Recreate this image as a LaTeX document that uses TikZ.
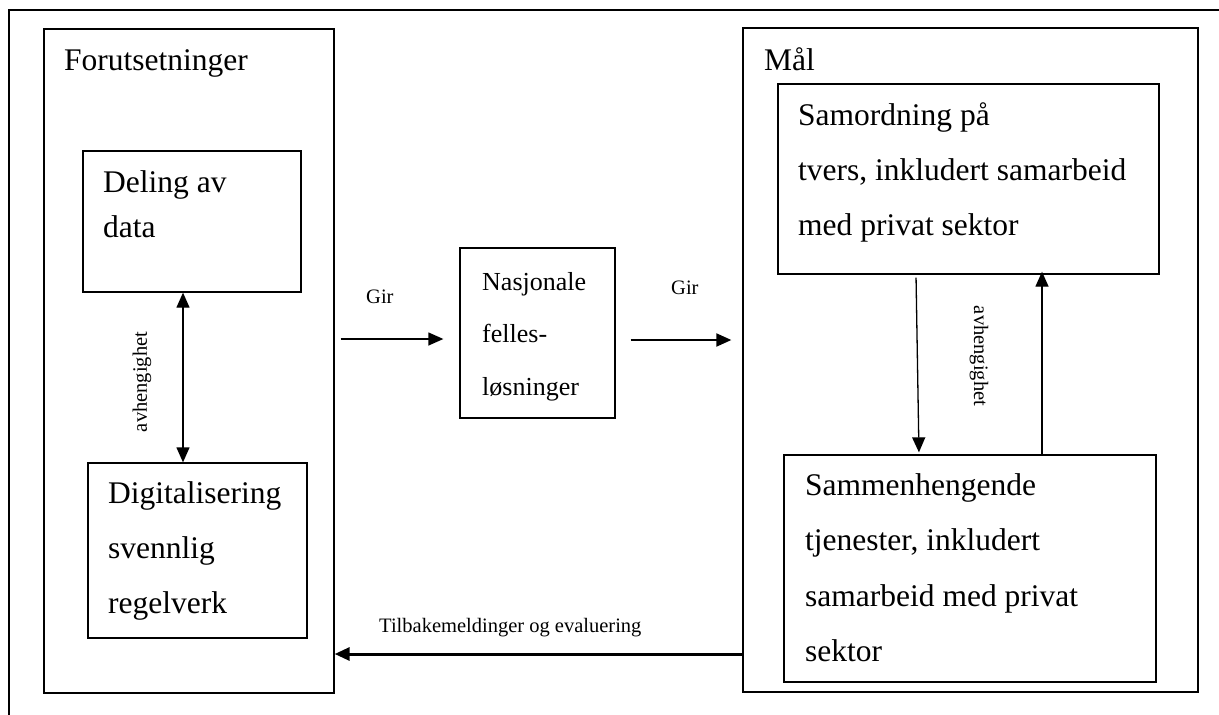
\documentclass[tikz,border=0pt]{standalone}
\usepackage{fontspec}
\setmainfont{Liberation Serif}
\usetikzlibrary{arrows.meta}

\begin{document}
\begin{tikzpicture}[
    x=1pt, y=-1pt,
    box/.style={draw, rectangle, line width=1.3pt, inner sep=0pt},
    txt/.style={anchor=base west, align=left, inner sep=0pt, font=\fontsize{31.5}{55}\selectfont},
    small/.style={inner sep=0pt, font=\fontsize{20.5}{24}\selectfont},
    arrow/.style={-{Triangle[length=15pt, width=13pt]}, line width=1.3pt}
]
\useasboundingbox (0,0) rectangle (1219,715);

% Frame
\draw[line width=2pt] (9,715) -- (9,10) -- (1219,10);

% Boxes
\node[box, minimum width=290pt, minimum height=664pt] (forut) at (189,361) {};
\node[box, minimum width=455pt, minimum height=664pt] (maal) at (970.5,360) {};
\node[box, minimum width=218pt, minimum height=141pt] (deling) at (192,221.5) {};
\node[box, minimum width=219pt, minimum height=175pt] (digital) at (197.5,550.5) {};
\node[box, minimum width=155pt, minimum height=170pt] (nasj) at (537.5,333) {};
\node[box, minimum width=381pt, minimum height=190pt] (samord) at (968.5,179) {};
\node[box, minimum width=372pt, minimum height=227pt] (sammen) at (970,568.5) {};

% Texts (base = baseline of the last line)
\node[txt] (forutTxt) at (64,70) {Forutsetninger};
\node[txt] (maalTxt) at (764,70) {Mål};
\node[txt, font=\fontsize{31.5}{45}\selectfont] (delingTxt) at (103,237) {Deling av\\data};
\node[txt] (digitalTxt) at (108,613) {Digitalisering\\svennlig\\regelverk};
\node[txt, font=\fontsize{26}{52.5}\selectfont] (nasjTxt) at (482,395) {Nasjonale\\felles-\\løsninger};
\node[txt] (samordTxt) at (798,235) {Samordning på\\tvers, inkludert samarbeid\\med privat sektor};
\node[txt, font=\fontsize{31.5}{55.5}\selectfont] (sammenTxt) at (805,661.5) {Sammenhengende\\tjenester, inkludert\\samarbeid med privat\\sektor};

% Labels
\node[small, rotate=90] (avhLeft) at (142,382) {avhengighet};
\node[small, rotate=-90] (avhRight) at (979,356) {avhengighet};
\node[small, anchor=base west] (girA) at (366,303) {Gir};
\node[small, anchor=base west] (girB) at (671,294) {Gir};
\node[small, anchor=base west] (tilbake) at (379,632) {Tilbakemeldinger og evaluering};

% Arrows
\draw[arrow, {Triangle[length=15pt, width=13pt]}-{Triangle[length=15pt, width=13pt]}]
    ([xshift=-9pt]deling.south) -- ([xshift=-14.5pt]digital.north);
\draw[arrow, shorten <=6pt, shorten >=16pt]
    ([yshift=-6pt]nasj.west -| forut.east) -- ([yshift=-6pt]nasj.west);
\draw[arrow, line width=2pt, shorten <=15pt, shorten >=11pt]
    ([yshift=-7pt]nasj.east) -- ([yshift=-7pt]nasj.east -| maal.west);
\draw[arrow, shorten <=3pt, shorten >=2pt]
    ([xshift=-52.5pt]samord.south) -- ([xshift=-51pt]sammen.north);
\draw[arrow, shorten >=-3pt]
    ([xshift=72pt]sammen.north) -- ([xshift=73.5pt]samord.south);
\draw[arrow, line width=3pt]
    ([yshift=-294pt]maal.west) -- ([yshift=-294pt]maal.west -| forut.east);

\end{tikzpicture}
\end{document}
